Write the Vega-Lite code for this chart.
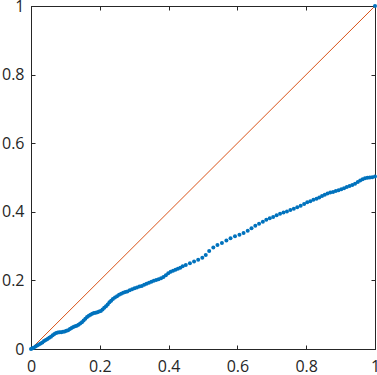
{
  "$schema": "https://vega.github.io/schema/vega-lite/v6.json",
  "width": 344,
  "height": 343,
  "autosize": "none",
  "padding": {"left": 31, "top": 6, "right": 2, "bottom": 26},
  "background": "white",
  "config": {
    "view": {"stroke": "#262626", "strokeWidth": 1},
    "axis": {
      "grid": false,
      "domainColor": "#262626",
      "tickColor": "#262626",
      "labelColor": "#262626",
      "labelFont": "Open Sans",
      "labelFontSize": 16,
      "tickSize": -4,
      "labelFlush": false,
      "labelPadding": 11,
      "title": null
    },
    "axisBottom": {"labelPadding": 13}
  },
  "datasets": {
    "diag": [{"x": 0, "y": 0}, {"x": 1, "y": 1}],
    "pts": [
      {"x":0,"y":0},{"x":0.004,"y":0.002},{"x":0.008,"y":0.004},{"x":0.013,"y":0.007},{"x":0.018,"y":0.010},
      {"x":0.023,"y":0.013},{"x":0.028,"y":0.016},{"x":0.033,"y":0.019},{"x":0.038,"y":0.023},{"x":0.043,"y":0.026},
      {"x":0.048,"y":0.029},{"x":0.053,"y":0.033},{"x":0.058,"y":0.036},{"x":0.063,"y":0.040},{"x":0.068,"y":0.044},
      {"x":0.073,"y":0.047},{"x":0.078,"y":0.048},{"x":0.083,"y":0.049},{"x":0.088,"y":0.049},{"x":0.093,"y":0.050},
      {"x":0.098,"y":0.051},{"x":0.103,"y":0.053},{"x":0.108,"y":0.055},{"x":0.113,"y":0.058},{"x":0.118,"y":0.061},
      {"x":0.123,"y":0.064},{"x":0.128,"y":0.066},{"x":0.133,"y":0.068},{"x":0.138,"y":0.071},{"x":0.143,"y":0.074},
      {"x":0.148,"y":0.078},{"x":0.153,"y":0.083},{"x":0.158,"y":0.088},{"x":0.163,"y":0.093},{"x":0.168,"y":0.097},
      {"x":0.173,"y":0.100},{"x":0.178,"y":0.103},{"x":0.183,"y":0.105},{"x":0.188,"y":0.106},{"x":0.193,"y":0.107},
      {"x":0.198,"y":0.109},{"x":0.203,"y":0.111},{"x":0.208,"y":0.115},{"x":0.213,"y":0.120},{"x":0.218,"y":0.125},
      {"x":0.223,"y":0.130},{"x":0.228,"y":0.136},{"x":0.233,"y":0.141},{"x":0.238,"y":0.146},{"x":0.244,"y":0.150},
      {"x":0.250,"y":0.154},{"x":0.256,"y":0.158},{"x":0.262,"y":0.161},{"x":0.268,"y":0.164},{"x":0.274,"y":0.166},
      {"x":0.280,"y":0.168},{"x":0.287,"y":0.171},{"x":0.294,"y":0.174},{"x":0.301,"y":0.177},{"x":0.308,"y":0.179},
      {"x":0.315,"y":0.182},{"x":0.322,"y":0.184},{"x":0.329,"y":0.187},{"x":0.336,"y":0.190},{"x":0.343,"y":0.193},
      {"x":0.350,"y":0.196},{"x":0.357,"y":0.199},{"x":0.364,"y":0.201},{"x":0.371,"y":0.203},{"x":0.378,"y":0.206},
      {"x":0.385,"y":0.210},{"x":0.392,"y":0.215},{"x":0.399,"y":0.221},{"x":0.406,"y":0.225},{"x":0.413,"y":0.228},
      {"x":0.420,"y":0.231},{"x":0.427,"y":0.234},{"x":0.434,"y":0.237},{"x":0.441,"y":0.241},{"x":0.450,"y":0.245},
      {"x":0.462,"y":0.250},{"x":0.474,"y":0.255},{"x":0.486,"y":0.260},{"x":0.498,"y":0.266},{"x":0.508,"y":0.274},
      {"x":0.518,"y":0.286},{"x":0.530,"y":0.296},{"x":0.542,"y":0.303},{"x":0.555,"y":0.309},{"x":0.568,"y":0.316},
      {"x":0.580,"y":0.323},{"x":0.593,"y":0.329},{"x":0.606,"y":0.333},{"x":0.618,"y":0.338},{"x":0.630,"y":0.345},
      {"x":0.641,"y":0.352},{"x":0.652,"y":0.359},{"x":0.663,"y":0.365},{"x":0.674,"y":0.371},{"x":0.684,"y":0.377},
      {"x":0.694,"y":0.381},{"x":0.704,"y":0.385},{"x":0.714,"y":0.390},{"x":0.724,"y":0.394},{"x":0.734,"y":0.398},
      {"x":0.744,"y":0.401},{"x":0.754,"y":0.405},{"x":0.764,"y":0.409},{"x":0.774,"y":0.413},{"x":0.784,"y":0.418},
      {"x":0.794,"y":0.423},{"x":0.803,"y":0.428},{"x":0.812,"y":0.431},{"x":0.821,"y":0.435},{"x":0.830,"y":0.438},
      {"x":0.838,"y":0.442},{"x":0.846,"y":0.446},{"x":0.854,"y":0.450},{"x":0.862,"y":0.453},{"x":0.870,"y":0.456},
      {"x":0.878,"y":0.458},{"x":0.886,"y":0.461},{"x":0.894,"y":0.463},{"x":0.902,"y":0.466},{"x":0.910,"y":0.469},
      {"x":0.918,"y":0.472},{"x":0.926,"y":0.475},{"x":0.934,"y":0.478},{"x":0.942,"y":0.482},{"x":0.950,"y":0.487},
      {"x":0.957,"y":0.491},{"x":0.964,"y":0.495},{"x":0.971,"y":0.498},{"x":0.978,"y":0.499},{"x":0.985,"y":0.500},
      {"x":0.992,"y":0.501},{"x":1.0,"y":0.503},{"x":1.0,"y":1.0}
    ]
  },
  "layer": [
    {
      "data": {"name": "diag"},
      "mark": {"type": "line", "color": "#D95319", "strokeWidth": 1, "clip": true},
      "encoding": {
        "x": {"field": "x", "type": "quantitative", "scale": {"domain": [0, 1], "nice": false, "zero": false},
              "axis": {"orient": "bottom", "values": [0, 0.2, 0.4, 0.6, 0.8, 1], "format": "~g"}},
        "y": {"field": "y", "type": "quantitative", "scale": {"domain": [0, 1], "nice": false, "zero": false},
              "axis": {"orient": "left", "values": [0, 0.2, 0.4, 0.6, 0.8, 1], "format": "~g"}}
      }
    },
    {
      "data": {"name": "pts"},
      "mark": {"type": "circle", "color": "#0072BD", "size": 16, "opacity": 1},
      "encoding": {
        "x": {"field": "x", "type": "quantitative",
              "axis": {"orient": "top", "values": [0, 0.2, 0.4, 0.6, 0.8, 1], "labels": false, "domain": false}},
        "y": {"field": "y", "type": "quantitative",
              "axis": {"orient": "right", "values": [0, 0.2, 0.4, 0.6, 0.8, 1], "labels": false, "domain": false}}
      }
    }
  ],
  "resolve": {"axis": {"x": "independent", "y": "independent"}}
}
